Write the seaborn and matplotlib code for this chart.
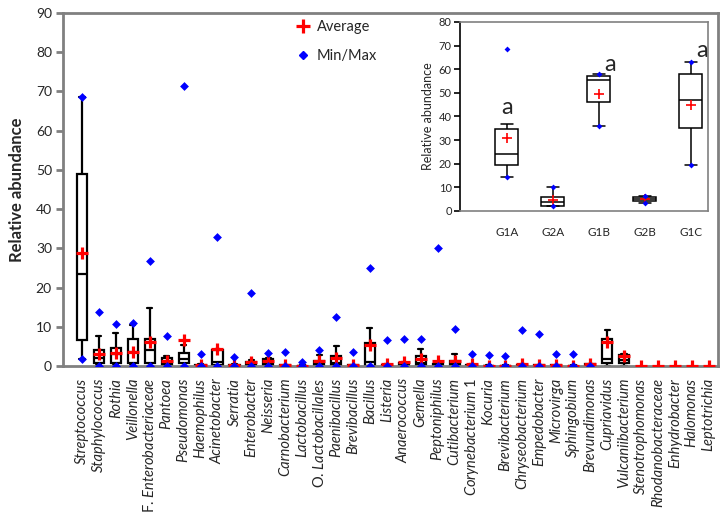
import numpy as np
import pandas as pd
import seaborn as sns
import matplotlib.pyplot as plt
from matplotlib.lines import Line2D

# main panel: genera with box stats
genera = ["Streptococcus", "Staphylococcus", "Rothia", "Veillonella",
          "F. $\\it{Enterobacteriaceae}$", "Pantoea", "Pseudomonas", "Haemophilus",
          "Acinetobacter", "Serratia", "Enterobacter", "Neisseria", "Carnobacterium",
          "Lactobacillus", "O. $\\it{Lactobacillales}$", "Paenibacillus", "Brevibacillus",
          "Bacillus", "Listeria", "Anaerococcus", "Gemella", "Peptoniphilus",
          "Cutibacterium", "$\\it{Corynebacterium}$ 1", "Kocuria", "Brevibacterium",
          "Chryseobacterium", "Empedobacter", "Microvirga", "Sphingobium",
          "Brevundimonas", "Cupriavidus", "Vulcaniibacterium", "Stenotrophomonas",
          "Rhodanobacteraceae", "Enhydrobacter", "Halomonas", "Leptotrichia"]

nan = np.nan
whisker_low = [1.8, 0.2, 0.2, 0.2, 0, 0, 0, 0, 0, 0, 0, 0, 0, 0, 0, 0, 0, 0, 0, 0,
               0, 0, 0, 0, 0, 0, 0, 0, 0, 0, 0, 0, 0, nan, nan, nan, nan, nan]
q1 = [6.5, 0.7, 0.8, 0.7, 0.7, 0.1, 0.7, 0, 0.2, 0, 0.1, 0.2, 0, 0, 0.1, 0.2, 0, 0.1, 0, 0.1,
      0.2, 0, 0.1, 0, 0, 0, 0, 0, 0, 0, 0, 0.7, 0.7, nan, nan, nan, nan, nan]
median = [23.5, 2.0, 3.0, 3.6, 4.0, 0.6, 1.7, 0.1, 1.0, 0.1, 0.4, 0.6, 0.05, 0, 0.5, 0.8, 0.05,
          1.1, 0.1, 0.3, 0.8, 0.1, 0.4, 0.1, 0, 0, 0.1, 0.05, 0.05, 0, 0.1, 1.7, 1.5,
          nan, nan, nan, nan, nan]
q3 = [49.0, 4.1, 4.7, 6.8, 6.8, 2.0, 3.2, 0.3, 4.0, 0.3, 1.1, 1.7, 0.2, 0.1, 1.2, 2.5, 0.2,
      5.8, 0.3, 0.8, 2.6, 0.5, 1.2, 0.3, 0.1, 0.1, 0.3, 0.2, 0.2, 0.1, 0.4, 7.0, 2.8,
      nan, nan, nan, nan, nan]
whisker_high = [68.5, 7.6, 8.3, 10.5, 14.7, 2.5, 5.3, 0.5, 4.3, 0.5, 1.5, 2.0, 0.3, 0.2, 2.7,
                5.0, 0.3, 9.8, 0.5, 1.0, 4.3, 0.8, 3.0, 0.5, 0.2, 0.2, 0.5, 0.3, 0.3, 0.2,
                0.5, 9.2, 3.0, nan, nan, nan, nan, nan]
average = [28.7, 3.0, 3.2, 3.6, 6.2, 1.3, 6.6, 0.3, 4.3, 0.3, 1.0, 1.3, 0.3, 0, 1.2, 2.0, 0.3,
           5.4, 0.5, 1.0, 1.8, 1.2, 1.3, 0.5, 0, 0, 0.5, 0.3, 0.3, 0, 0.5, 6.1, 2.5,
           0, 0, 0, 0, 0]
minimum = [1.8, 0, 0, 0, 0, 0, 0, 0, 0, 0, 0, 0, 0, 0, 0, 0, 0, 0, 0, 0, 0, 0, 0, 0, 0, 0,
           0, 0, 0, 0, 0, nan, nan, nan, nan, nan, nan, nan]
maximum = [68.5, 13.7, 10.6, 11.0, 26.7, 7.7, 71.3, 3.1, 33.0, 2.4, 18.5, 3.4, 3.6, 1.1, 4.2,
           12.4, 3.6, 24.9, 6.5, 6.9, 6.9, 30.2, 9.3, 3.0, 2.8, 2.6, 9.1, 8.1, 3.0, 3.0,
           nan, nan, nan, nan, nan, nan, nan, nan]

# inset panel
groups = ["G1A", "G2A", "G1B", "G2B", "G1C"]
g_whisker_low = [14.5, 2.0, 36.0, 3.5, 19.5]
g_q1 = [19.3, 2.3, 46.0, 4.2, 35.0]
g_median = [24.0, 3.8, 55.5, 5.0, 47.0]
g_q3 = [34.5, 6.0, 57.0, 6.0, 58.0]
g_whisker_high = [37.0, 10.0, 58.0, 6.5, 63.0]
g_average = [31.0, 4.5, 49.5, 5.0, 45.0]
g_minimum = [14.5, 2.0, 36.0, 3.5, 19.5]
g_maximum = [68.5, 10.0, 58.0, 6.5, 63.0]
g_letters = ["a", "", "a", "", "a"]
g_letter_y = [44, nan, 62, nan, 68]


def box_frame(names, key, *stats):
    # five values per box -> quartiles come out exactly with whis=(0, 100)
    rows = [(n, v) for n, vals in zip(names, zip(*stats)) for v in vals]
    return pd.DataFrame(rows, columns=[key, "value"])


def ext_frame(names, key, lo, hi):
    return pd.DataFrame({key: list(names) * 2, "value": list(lo) + list(hi)})


sns.set_style("white")
plt.rcParams["font.family"] = ["Lato", "DejaVu Sans"]
plt.rcParams["mathtext.fontset"] = "custom"
plt.rcParams["mathtext.it"] = "Lato:italic"
plt.rcParams["mathtext.rm"] = "Lato"

fig = plt.figure(figsize=(7.26, 5.22), dpi=100)
ax = fig.add_axes([0.0868, 0.2989, 0.9022, 0.6762])

box_df = box_frame(genera, "genus", whisker_low, q1, median, q3, whisker_high)
sns.boxplot(data=box_df, x="genus", y="value", order=genera, whis=(0, 100), width=0.6,
            color="white", linecolor="black", linewidth=1.6, ax=ax)
mean_df = pd.DataFrame({"genus": genera, "value": average})
sns.stripplot(data=mean_df, x="genus", y="value", order=genera, jitter=False, marker="+",
              color="red", edgecolor="red", size=9, linewidth=2.3, zorder=4, ax=ax)
sns.stripplot(data=ext_frame(genera, "genus", minimum, maximum), x="genus", y="value",
              order=genera, jitter=False, marker="D", color="blue", size=4.5, linewidth=0,
              zorder=5, ax=ax)

ax.set_xlim(-1.12, 37.55)
ax.set_ylim(0, 90)
ax.set_yticks(range(0, 91, 10))
ax.set_xlabel("")
ax.set_ylabel("Relative abundance", fontsize=12, fontweight="bold", labelpad=8)
for s in ax.spines.values():
    s.set_color("#808080")
    s.set_linewidth(2)
ax.tick_params(axis="y", left=True, direction="out", length=5, width=2, color="#808080",
               labelsize=10, pad=3)
ax.tick_params(axis="x", bottom=False, labelsize=10.5, pad=5)
ax.set_xticks(range(len(genera)))
ax.set_xticklabels(genera, rotation=90)
for t in ax.get_xticklabels():
    t.set_style("normal" if "$" in t.get_text() else "italic")

handles = [Line2D([], [], marker="+", color="red", linestyle="none", markersize=10,
                  markeredgewidth=2.3, label="Average"),
           Line2D([], [], marker="D", color="blue", linestyle="none", markersize=4,
                  label="Min/Max")]
ax.legend(handles=handles, loc="upper left", bbox_to_anchor=(0.337, 1.017), frameon=False,
          fontsize=10.5, handlelength=0.8, handletextpad=0.55, labelspacing=1.0)

# inset
axin = fig.add_axes([0.6336, 0.5958, 0.3416, 0.3621])
axin.set_facecolor("white")
gbox_df = box_frame(groups, "group", g_whisker_low, g_q1, g_median, g_q3, g_whisker_high)
sns.boxplot(data=gbox_df, x="group", y="value", order=groups, whis=(0, 100), width=0.5,
            color="white", linecolor="black", linewidth=1.1, ax=axin)
sns.stripplot(data=pd.DataFrame({"group": groups, "value": g_average}), x="group", y="value",
              order=groups, jitter=False, marker="+", color="red", edgecolor="red", size=7,
              linewidth=1.2, zorder=4, ax=axin)
sns.stripplot(data=ext_frame(groups, "group", g_minimum, g_maximum), x="group", y="value",
              order=groups, jitter=False, marker="D", color="blue", size=3, linewidth=0,
              zorder=5, ax=axin)
for i, (letter, ly) in enumerate(zip(g_letters, g_letter_y)):
    if letter:
        axin.text(i + (0 if i == 0 else 0.24), ly, letter, fontsize=17, ha="center",
                  va="center")

axin.set_xlim(-1.02, 4.37)
axin.set_ylim(0, 80)
axin.set_yticks(range(0, 81, 10))
axin.set_xlabel("")
axin.set_ylabel("Relative abundance", fontsize=9, labelpad=3)
for s in axin.spines.values():
    s.set_color("#808080")
    s.set_linewidth(1.2)
axin.spines["left"].set_color("black")
axin.tick_params(axis="y", left=True, direction="out", length=4, width=1.2, color="black",
                 labelsize=8, pad=2)
axin.tick_params(axis="x", bottom=False, labelsize=8.5, pad=8)

fig.savefig("out.png", dpi=100)
